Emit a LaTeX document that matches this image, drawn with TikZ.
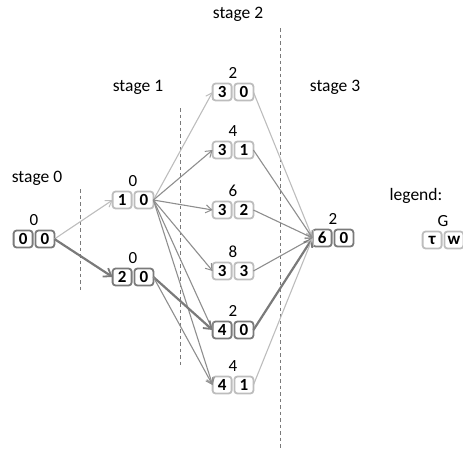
\documentclass[tikz,border=0pt]{standalone}
\usepackage{fontspec}
\setmainfont{Carlito}
\usetikzlibrary{arrows.meta}

\definecolor{lightc}{HTML}{BDBDBD}
\definecolor{midc}{HTML}{8E8E8E}
\definecolor{darkc}{HTML}{7A7A7A}

\tikzset{
  cell/.style={draw, rounded corners=3pt, minimum width=19pt, minimum height=17pt,
    inner sep=0pt, line width=1.8pt, fill=white,
    font=\bfseries\fontsize{17}{17}\selectfont},
  lightbox/.style={draw=lightc},
  darkbox/.style={draw=darkc},
  pairbox/.style={minimum width=39pt, minimum height=17pt, inner sep=0pt, outer sep=0.9pt},
  lab/.style={font=\fontsize{17}{17}\selectfont, inner sep=1pt},
  stagelab/.style={font=\fontsize{17.5}{18}\selectfont},
  tip/.style={-{Straight Barb[length=6pt,width=8pt,line width=1pt]}},
  lightedge/.style={tip, draw=lightc, line width=1.1pt},
  midedge/.style={tip, draw=midc, line width=1.1pt},
  thickedge/.style={-{Straight Barb[length=7pt,width=10pt,line width=1.8pt]}, draw=darkc, line width=2.2pt},
  divider/.style={draw=darkc, line width=0.9pt, dash pattern=on 3.5pt off 3pt},
}

% a state: two framed cells side by side, with its value written above
\newcommand\statepair[6]{%
  \node[pairbox] (#1) at (#2) {};
  \node[cell,#5,anchor=east] (#1-l) at ([xshift=-0.5pt]#1.center) {#3};
  \node[cell,#5,anchor=west] (#1-r) at ([xshift=0.5pt]#1.center) {#4};
  \node[lab,anchor=base] (#1-v) at ([yshift=4pt]#1.north) {#6};
}

\begin{document}
\begin{tikzpicture}[x=1pt,y=-1pt]
\useasboundingbox (0,0) rectangle (463,448);

% stage headings
\node[stagelab] (h0) at (37,178) {stage 0};
\node[stagelab] (h1) at (138,87) {stage 1};
\node[stagelab] (h2) at (238,14) {stage 2};
\node[stagelab] (h3) at (335,87) {stage 3};
\node[stagelab] (hl) at (416,196) {legend:};

% stage dividers
\coordinate (d0a) at (80,189);  \coordinate (d0b) at (80,290);
\coordinate (d1a) at (180,108); \coordinate (d1b) at (180,365);
\coordinate (d2a) at (280,28);  \coordinate (d2b) at (280,448);
\draw[divider] (d0a) -- (d0b);
\draw[divider] (d1a) -- (d1b);
\draw[divider] (d2a) -- (d2b);

% states
\statepair{s00}{34,239}{0}{0}{darkbox}{0}
\statepair{s10}{133,200}{1}{0}{lightbox}{0}
\statepair{s20}{133,277}{2}{0}{darkbox}{0}
\statepair{s30}{233,92}{3}{0}{lightbox}{2}
\statepair{s31}{233,150}{3}{1}{lightbox}{4}
\statepair{s32}{233,210}{3}{2}{lightbox}{6}
\statepair{s33}{233,271}{3}{3}{lightbox}{8}
\statepair{s40}{233,330}{4}{0}{darkbox}{2}
\statepair{s41}{233,385}{4}{1}{lightbox}{4}
\statepair{s60}{333,238}{6}{0}{darkbox}{2}
\statepair{leg}{443,240}{τ}{w}{lightbox}{G}

% transitions
\draw[lightedge] (s00.east) -- (s10.west);
\draw[thickedge] (s00.east) -- (s20.west);

\draw[lightedge] (s10.east) -- (s30.west);
\draw[midedge] (s10.east) -- (s31.west);
\draw[midedge] (s10.east) -- (s32.west);
\draw[midedge] (s10.east) -- (s33.west);
\draw[midedge] (s10.east) -- (s40.west);
\draw[midedge] (s10.east) -- (s41.west);

\draw[thickedge] (s20.east) -- (s40.west);
\draw[midedge] (s20.east) -- (s41.west);

\draw[lightedge] (s30.east) -- (s60.west);
\draw[midedge] (s31.east) -- (s60.west);
\draw[midedge] (s32.east) -- (s60.west);
\draw[midedge] (s33.east) -- (s60.west);
\draw[thickedge] (s40.east) -- (s60.west);
\draw[lightedge] (s41.east) -- (s60.west);
\end{tikzpicture}
\end{document}
